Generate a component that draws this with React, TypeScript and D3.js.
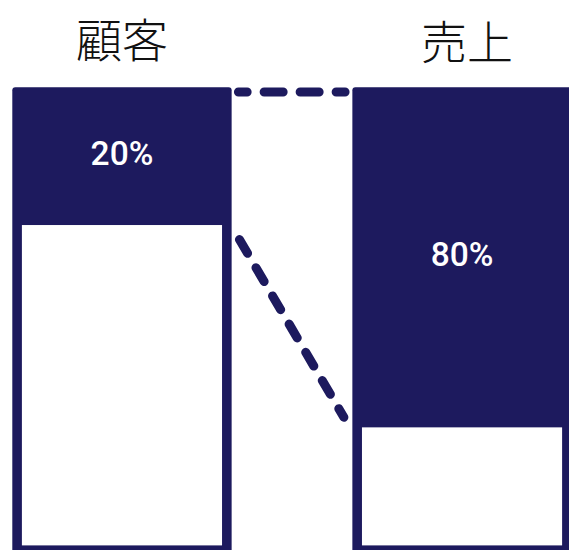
import React from "react";
import * as d3 from "d3";

const categories = ["顧客", "売上"];
const shares = [20, 80];
const shareLabels = ["20%", "80%"];

const W = 569;
const H = 550;
const NAVY = "#1d1a5e";

export default function App() {
  const x = d3.scaleBand<string>().domain(categories).range([12.3, 571.7]).paddingInner(0.355).paddingOuter(0);
  // maps a share value to the top edge of the white (remaining) area
  const y = d3.scaleLinear().domain([0, 100]).range([157.6, 494.8]);
  const top = 87.3;
  const bottom = 555;
  const border = 9.6;
  const bw = x.bandwidth();

  const x0 = x(categories[0])!;
  const x1 = x(categories[1])!;
  const wTop0 = y(shares[0]);
  const wTop1 = y(shares[1]);

  return (
    <div style={{ position: "absolute", left: 0, top: 0 }}>
      <svg width={W} height={H} style={{ display: "block" }}>
        {/* connectors */}
        <line
          x1={x0 + bw + 6.8}
          y1={top + 4.7}
          x2={x1 - 7.3}
          y2={top + 4.7}
          stroke={NAVY}
          strokeWidth={9}
          strokeLinecap="round"
          strokeDasharray="19 17"
          strokeDashoffset={10.3}
        />
        <line
          x1={x0 + bw + 7.8}
          y1={wTop0 + 14.5}
          x2={x1 - 8.5}
          y2={wTop1 - 10.1}
          stroke={NAVY}
          strokeWidth={9}
          strokeLinecap="round"
          strokeDasharray="16 16.7"
        />
        {categories.map((c, i) => {
          const bx = x(c)!;
          const wt = y(shares[i]);
          return (
            <g key={c}>
              <rect x={bx} y={top} width={bw} height={bottom - top} rx={3} fill={NAVY} />
              <rect
                x={bx + border}
                y={wt}
                width={bw - 2 * border}
                height={bottom - border - wt}
                fill="#ffffff"
              />
              <text
                x={bx + bw / 2}
                y={(top + wt) / 2 - 3}
                textAnchor="middle"
                dominantBaseline="central"
                fill="#ffffff"
                fontFamily="Roboto, 'Noto Sans', sans-serif"
                fontWeight={500}
                fontSize={33.5}
              >
                {shareLabels[i]}
              </text>
              <text
                x={bx + bw / 2 + (i === 1 ? 5 : 0)}
                y={i === 1 ? 59 : 57}
                textAnchor="middle"
                fill="#111111"
                fontFamily="'Noto Sans CJK JP', sans-serif"
                fontWeight={300}
                fontSize={46}
              >
                {c}
              </text>
            </g>
          );
        })}
      </svg>
    </div>
  );
}
